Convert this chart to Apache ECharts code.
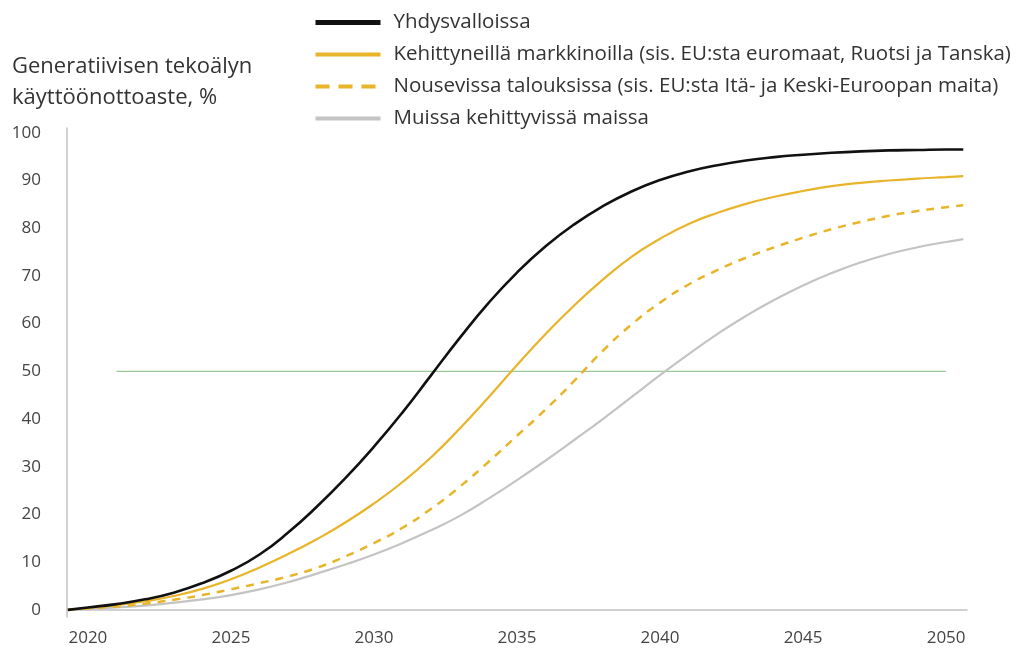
<!DOCTYPE html>
<html>
<head>
<meta charset="utf-8">
<script src="https://cdn.jsdelivr.net/npm/echarts@6/dist/echarts.min.js"></script>
<style>
html,body{margin:0;padding:0;background:#fff;}
#c{width:1027px;height:655px;}
</style>
</head>
<body>
<div id="c"></div>
<script>
var years = [2019.3,2020,2021,2022,2023,2024,2025,2026,2027,2028,2029,2030,2031,2032,2033,2034,2035,2036,2037,2038,2039,2040,2041,2042,2043,2044,2045,2046,2047,2048,2049,2050,2050.6];
var usa = [0,0.5,1.2,2.2,3.6,5.6,8.2,11.6,16.2,21.6,27.6,34.2,41.4,49.2,57,64.3,70.7,76.2,80.8,84.6,87.7,90.1,91.9,93.2,94.2,94.9,95.4,95.8,96.1,96.3,96.4,96.5,96.5];
var advanced = [0,0.4,1,1.8,2.9,4.4,6.4,8.9,11.7,14.8,18.3,22.3,26.8,32,38,44.5,51.3,57.8,63.8,69.2,74,77.8,80.9,83.2,85.1,86.6,87.8,88.8,89.5,90,90.4,90.7,90.9];
var emerging = [0,0.3,0.7,1.3,2.1,3.1,4.3,5.6,7,8.8,11.2,14,17.2,21.2,25.8,31,36.5,42,48,54.3,59.8,64.4,68.2,71.2,73.8,76,78,79.8,81.3,82.6,83.6,84.4,84.8];
var developing = [0,0.2,0.5,0.9,1.5,2.2,3.1,4.3,5.8,7.6,9.5,11.6,14,16.7,19.7,23.3,27.2,31.3,35.6,40,44.6,49.2,53.6,57.8,61.6,65,68,70.6,72.8,74.6,76,77.1,77.7];
var refYears = [2021, 2050];
var refValues = [50, 50];
var xTicks = [2020,2025,2030,2035,2040,2045,2050];
var yTicks = [0,10,20,30,40,50,60,70,80,90,100];
var names = ['Yhdysvalloissa','Kehittyneillä markkinoilla (sis. EU:sta euromaat, Ruotsi ja Tanska)','Nousevissa talouksissa (sis. EU:sta Itä- ja Keski-Euroopan maita)','Muissa kehittyvissä maissa'];
var yTitle = 'Generatiivisen tekoälyn\nkäyttöönottoaste, %';

function pairs(xs, ys){ return xs.map(function(x,i){ return [x, ys[i]]; }); }

var chart = echarts.init(document.getElementById('c'), null, {renderer:'canvas'});
var FONT = 'Open Sans';
var YEL = '#E8B42A';
chart.setOption({
  animation:false,
  backgroundColor:'#fff',
  textStyle:{fontFamily:FONT},
  title:{
    text:yTitle, left:7, top:46,
    textStyle:{fontFamily:FONT,fontSize:22,fontWeight:'normal',color:'#333',lineHeight:31}
  },
  legend:{
    orient:'vertical', left:308, top:7,
    itemWidth:65, itemHeight:14, itemGap:11,
    textStyle:{fontFamily:FONT,fontSize:20.5,color:'#333',lineHeight:21,padding:[0,0,0,8]},
    data:[
      {name:names[0], itemStyle:{opacity:0}, lineStyle:{width:5,color:'#111'}},
      {name:names[1], itemStyle:{opacity:0}, lineStyle:{width:4,color:YEL}},
      {name:names[2], itemStyle:{opacity:0}, lineStyle:{width:4,color:YEL,type:[14,9]}},
      {name:names[3], itemStyle:{opacity:0}, lineStyle:{width:4,color:'#C4C4C4'}}
    ]
  },
  grid:{left:67,right:60,top:128,bottom:38},
  xAxis:{
    type:'value', min:2019.27, max:2050.73,
    axisLine:{show:true,lineStyle:{color:'#C2C2C2',width:1.5}},
    axisTick:{show:false},
    splitLine:{show:false},
    axisLabel:{customValues:xTicks, margin:13, fontFamily:FONT, fontSize:17, color:'#444', formatter:function(v){return String(Math.round(v));}}
  },
  yAxis:{
    type:'value', min:-1.5, max:101,
    axisLine:{show:true,lineStyle:{color:'#C2C2C2',width:1.5}},
    axisTick:{show:false},
    splitLine:{show:false},
    axisLabel:{customValues:yTicks, margin:26, fontFamily:FONT, fontSize:17, color:'#444'}
  },
  series:[
    {name:'ref', type:'line', data:pairs(refYears, refValues), symbol:'none', silent:true,
     lineStyle:{color:'#9CC89C',width:1.2}, z:1},
    {name:names[3], type:'line', data:pairs(years, developing), symbol:'none', smooth:0.5,
     lineStyle:{color:'#C4C4C4',width:2.2}, itemStyle:{color:'#C4C4C4'}, z:2},
    {name:names[2], type:'line', data:pairs(years, emerging), symbol:'none', smooth:0.5,
     lineStyle:{color:YEL,width:2.5,type:[8,7]}, itemStyle:{color:YEL}, z:3},
    {name:names[1], type:'line', data:pairs(years, advanced), symbol:'none', smooth:0.5,
     lineStyle:{color:YEL,width:2.2}, itemStyle:{color:YEL}, z:4},
    {name:names[0], type:'line', data:pairs(years, usa), symbol:'none', smooth:0.5,
     lineStyle:{color:'#111',width:2.6}, itemStyle:{color:'#111'}, z:5}
  ]
});
</script>
</body>
</html>
